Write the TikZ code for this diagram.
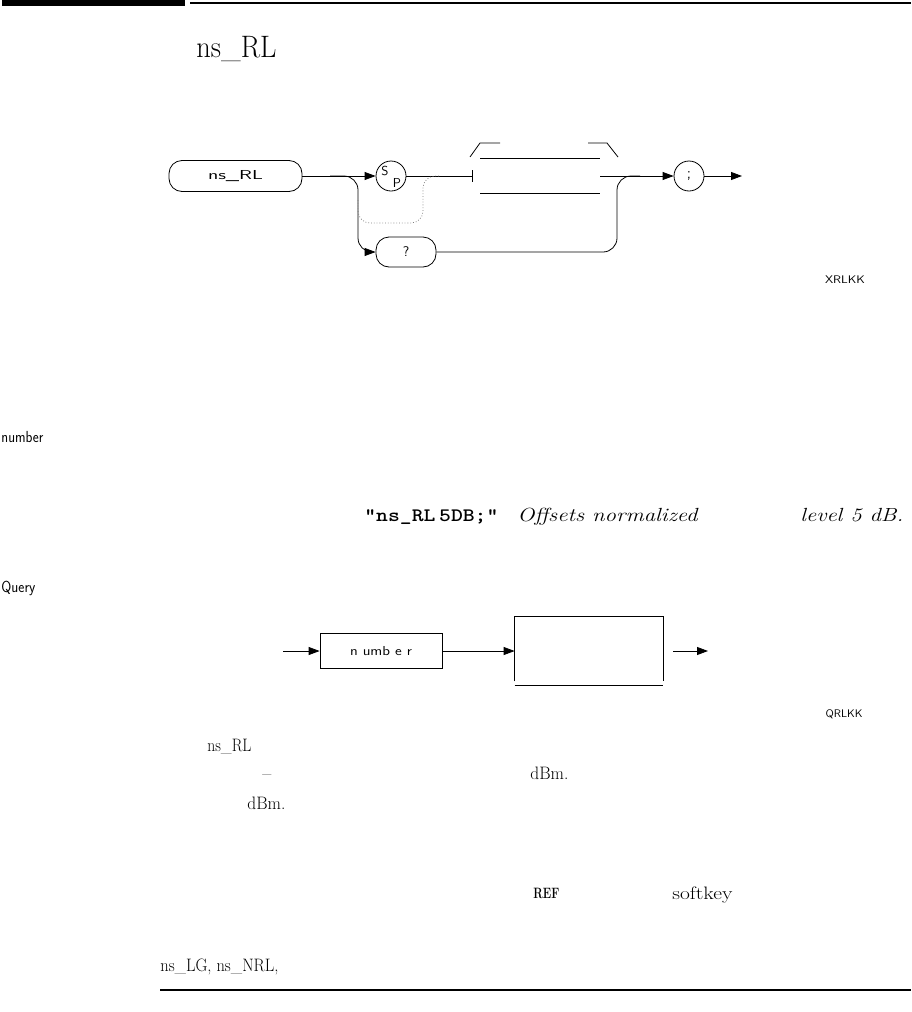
\documentclass[tikz,border=0pt]{standalone}
\usepackage{fontspec}
\usepackage{graphicx}
\usetikzlibrary{arrows.meta}
\newcommand{\fw}[2]{\resizebox{#1}{\height}{#2}}
\newcommand{\fsz}[1]{\fontsize{#1}{#1}\selectfont}
\begin{document}
\begin{tikzpicture}[x=1pt,y=-1pt,line width=0.8pt,
  tip/.style={-{Triangle[length=11pt,width=8pt]}},
  pill/.style={draw,rounded corners=13pt,inner sep=0pt},
  ring/.style={draw,circle,minimum size=30pt,inner sep=0pt},
  txt/.style={anchor=base west,inner sep=0pt},
  lbl/.style={inner sep=0pt,font=\sffamily}]
\useasboundingbox (0,0) rectangle (911,1012);
% header
\fill (2,0) rectangle (185,6);
\draw[line width=2pt] (190,3) -- (911,3);
\node[txt] (title) at (196,57) {\fw{80pt}{\fsz{31}ns\_RL}};
% syntax diagram 1
\node[pill,minimum width=133pt,minimum height=31pt] (cmd) at (235.5,176) {\fw{55pt}{\sffamily\fsz{13}ns\_RL}};
\node[ring] (sp) at (391,176) {};
\node[lbl,font=\sffamily\fsz{13}] (spS) at (385,171) {S};
\node[lbl,font=\sffamily\fsz{13}] (spP) at (397,183) {P};
\node[pill,minimum width=60pt,minimum height=30pt] (q) at (406,252) {\sffamily\fsz{14}?};
\node[ring] (semi) at (689,176) {\sffamily\fsz{16};};
\coordinate (b0) at (330,176);
\coordinate (bar) at (473,176);
\coordinate (m0) at (600,176);
\coordinate (out1) at (742,176);
\draw[tip] (cmd.east) -- (sp.west);
\draw[tip,rounded corners=14pt] (b0) -| (358,252) -- (q.west);
\draw[-{Bar[width=12pt]}] (sp.east) -- (bar);
\draw[rounded corners=14pt] (q.east) -| (617,176) -- (640,176);
\draw[tip] (m0) -- (semi.west);
\draw[tip] (semi.east) -- (out1);
\draw[dotted,gray,rounded corners=12pt] (358,200) |- (423,223) |- (440,176);
% bracket
\draw (470,157) -- (480,143) -- (500,143);
\draw (588,143) -- (607,143) -- (618,157);
\draw (480,158) -- (600,158);
\draw (480,193) -- (600,193);
\node[lbl] (xr) at (845,280) {\fw{40pt}{\sffamily\fsz{11}XRLKK}};
% margin labels and example
\node[txt] (mnum) at (1,442) {\fw{42pt}{\sffamily\fsz{16}number}};
\node[txt] (ex1) at (364,521) {\fw{134pt}{\ttfamily\bfseries\fsz{19}"ns\_RL\,5DB;"}};
\node[txt] (ex2) at (517,521) {\fw{180pt}{\itshape\fsz{19}Offsets normalized}};
\node[txt] (ex3) at (800,521) {\fw{103pt}{\itshape\fsz{19}level 5 dB.}};
\node[txt] (mq) at (1,592) {\fw{34pt}{\sffamily\fsz{16}Query}};
% query diagram
\coordinate (qin) at (283,651);
\node[draw,minimum width=122pt,minimum height=35pt,inner sep=0pt] (num) at (381,651) {\fw{62pt}{\sffamily\fsz{13}n umb e r}};
\node[minimum width=148pt,minimum height=64pt,inner sep=0pt] (big) at (589,649) {};
\draw (big.south west) -- (big.north west) -- (big.north east) -- (big.south east);
\draw ([yshift=-4pt]big.south west) -- ([yshift=-4pt]big.south east);
\coordinate (qo1) at (673,651);
\coordinate (qo2) at (708,651);
\draw[tip] (qin) -- (num.west);
\draw[tip] (num.east) -- (num.east -| big.west);
\draw[tip] (qo1) -- (qo2);
\node[lbl] (qr) at (844,714) {\fw{37pt}{\sffamily\fsz{11}QRLKK}};
% body text
\node[txt] (b1) at (207,751) {\fw{44pt}{\fsz{18}ns\_RL}};
\node[txt] (b2) at (262,779) {\fw{9pt}{\fsz{18}–}};
\node[txt] (b3) at (530,779) {\fw{38pt}{\fsz{18}dBm.}};
\node[txt] (b4) at (247,809) {\fw{38pt}{\fsz{18}dBm.}};
\node[txt] (b5) at (533,898) {\fw{26pt}{\bfseries\fsz{15}REF}};
\node[txt] (b6) at (672,899) {\fw{60pt}{\fsz{18}softkey}};
\node[txt] (b7) at (160,971) {\fw{118pt}{\fsz{18}ns\_LG, ns\_NRL,}};
\draw[line width=2pt] (160,990) -- (911,990);
\end{tikzpicture}
\end{document}
